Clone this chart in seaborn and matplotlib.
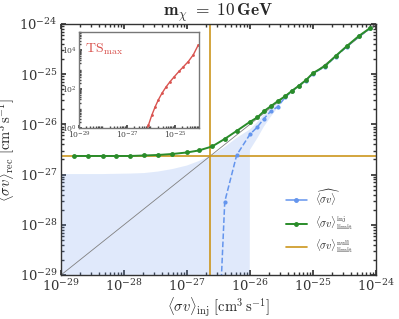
import numpy as np
import matplotlib
matplotlib.use("Agg")
import matplotlib.pyplot as plt
import seaborn as sns
from matplotlib.lines import Line2D
from matplotlib.ticker import LogLocator, NullFormatter

sns.set_theme(style="ticks")
plt.rcParams['font.family'] = ['DejaVu Serif']
plt.rcParams['mathtext.fontset'] = 'cm'

# dados (log10 dos valores lidos)
x_grid = [-28.79, -28.57, -28.34, -28.12, -27.90, -27.68, -27.46, -27.23, -27.0,
          -26.81, -26.60, -26.40, -26.21, -26.0, -25.88, -25.78, -25.67, -25.56,
          -25.44, -25.33, -25.22, -25.11, -25.0, -24.81, -24.64, -24.46, -24.27, -24.09]
limite_inj = [-26.63, -26.63, -26.63, -26.63, -26.63, -26.62, -26.61, -26.59, -26.56,
              -26.52, -26.44, -26.29, -26.13, -25.95, -25.86, -25.74, -25.64, -25.54,
              -25.44, -25.33, -25.23, -25.12, -24.98, -24.84, -24.64, -24.44, -24.24, -24.08]

x_rec = [-26.60, -26.40, -26.21, -26.0, -25.88, -25.78, -25.67, -25.56, -25.44,
         -25.33, -25.22, -25.11, -25.0, -24.81, -24.64, -24.46, -24.27, -24.09]
sv_rec = [-33.2, -27.54, -26.61, -26.20, -26.05, -25.89, -25.74, -25.65, -25.46,
          -25.335, -25.23, -25.13, -24.99, -24.85, -24.65, -24.45, -24.25, -24.09]

x_banda = [-29.0] + x_grid
banda_sup = [-26.99, -26.99, -26.99, -26.99, -26.985, -26.98, -26.97, -26.94, -26.89, -26.82,
             -26.73, -26.61, -26.45, -26.27, -26.10, -25.95, -25.80, -25.68, -25.57,
             -25.45, -25.33, -25.22, -25.11, -24.99, -24.845, -24.645, -24.445, -24.245, -24.085]
banda_inf = [-200, -200, -200, -200, -200, -200, -200, -200, -200, -200,
             -200, -200, -200, -200, -26.51, -26.27, -26.05, -25.85, -25.67,
             -25.49, -25.36, -25.25, -25.15, -25.02, -24.86, -24.66, -24.46, -24.26, -24.10]

limite_null = -26.635

# inset TS_max
x_ts = [-26.30, -26.11, -25.97, -25.83, -25.70, -25.55, -25.37, -25.21, -25.03,
        -24.82, -24.65, -24.45, -24.24, -24.03]
ts_max = [-0.6, 0.14, 0.65, 1.08, 1.43, 1.77, 2.11, 2.37, 2.63, 2.92, 3.14, 3.40, 3.75, 4.26]

azul = '#6495ed'
verde = '#2a8c2a'
laranja = '#cc961c'
vermelho = '#d9534f'

fig = plt.figure(figsize=(3.99, 3.19), dpi=100)
ax = fig.add_axes([0.153, 0.138, 0.789, 0.787])
ax.set_xscale('log')
ax.set_yscale('log')

ax.fill_between(10.0 ** np.array(x_banda), 10.0 ** np.array(banda_inf), 10.0 ** np.array(banda_sup),
                color=azul, alpha=0.2, lw=0)
ax.plot([1e-29, 1e-24], [1e-29, 1e-24], color='grey', lw=0.6)
ax.axhline(10 ** limite_null, color=laranja, lw=1.2)
ax.axvline(10 ** limite_null, color=laranja, lw=1.2)

sns.lineplot(x=10.0 ** np.array(x_rec), y=10.0 ** np.array(sv_rec), ax=ax, color=azul,
             linestyle='--', marker='o', markersize=3, mec=azul, mew=0, lw=1.1,
             estimator=None, sort=False)
sns.lineplot(x=10.0 ** np.array(x_grid), y=10.0 ** np.array(limite_inj), ax=ax, color=verde,
             marker='o', markersize=3.5, mec=verde, mew=0, lw=1.4,
             estimator=None, sort=False)

ax.set_xlim(1e-29, 1e-24)
ax.set_ylim(1e-29, 1e-24)
ax.tick_params(which='both', direction='in', top=True, right=True, labelsize=9.5, colors='#333333')
ax.tick_params(which='major', length=3.5, pad=2.5)
ax.tick_params(which='minor', length=2)
ax.xaxis.set_minor_locator(LogLocator(subs=np.arange(2, 10)))
ax.yaxis.set_minor_locator(LogLocator(subs=np.arange(2, 10)))
for s in ax.spines.values():
    s.set_color('#333333')
    s.set_linewidth(1.0)

ax.set_xlabel(r'$\langle\sigma v\rangle_{\rm inj}\ [{\rm cm^3\,s^{-1}}]$', fontsize=10.5, labelpad=1)
ax.set_ylabel(r'$\langle\sigma v\rangle_{\rm rec}\ [{\rm cm^3\,s^{-1}}]$', fontsize=10.5, labelpad=2)
ax.set_title(r'$\mathbf{m_{\chi}}\ \mathbf{=}\ \mathbf{10\,GeV}$', fontsize=12.5, pad=4)

handles = [Line2D([], [], color=azul, marker='o', markersize=2.5, lw=1.1),
           Line2D([], [], color=verde, marker='o', markersize=2.5, lw=1.4),
           Line2D([], [], color=laranja, lw=1.2)]
labels = [r'$\widehat{\langle\sigma v\rangle}$',
          r'$\langle\sigma v\rangle_{\rm limit}^{\rm inj}$',
          r'$\langle\sigma v\rangle_{\rm limit}^{\rm null}$']
ax.legend(handles, labels, loc='lower right', frameon=False, fontsize=7.5,
          handlelength=2.0, handletextpad=0.8, labelspacing=0.6,
          borderaxespad=1.5, bbox_to_anchor=(0.99, 0.0))

# inset
axi = fig.add_axes([0.198, 0.599, 0.301, 0.300])
axi.set_xscale('log')
axi.set_yscale('log')
sns.lineplot(x=10.0 ** np.array(x_ts), y=10.0 ** np.array(ts_max), ax=axi, color=vermelho,
             marker='o', markersize=2, mec=vermelho, mew=0, lw=1.0,
             estimator=None, sort=False)
axi.set_xlim(1e-29, 1e-24)
axi.set_ylim(1, 8e4)
axi.set_xticks([1e-29, 1e-27, 1e-25])
axi.set_yticks([1, 1e2, 1e4])
axi.xaxis.set_minor_formatter(NullFormatter())
axi.yaxis.set_minor_formatter(NullFormatter())
axi.tick_params(which='both', direction='in', labelsize=5.5, pad=1.5, colors='#444444')
axi.tick_params(which='major', length=2.5)
axi.tick_params(which='minor', length=1.2)
for s in axi.spines.values():
    s.set_color('#777777')
    s.set_linewidth(1.0)
axi.text(0.05, 0.9, r'$\rm TS_{max}$', transform=axi.transAxes, color=vermelho,
         fontsize=10, va='top', ha='left')

fig.savefig('out.png', dpi=100)
